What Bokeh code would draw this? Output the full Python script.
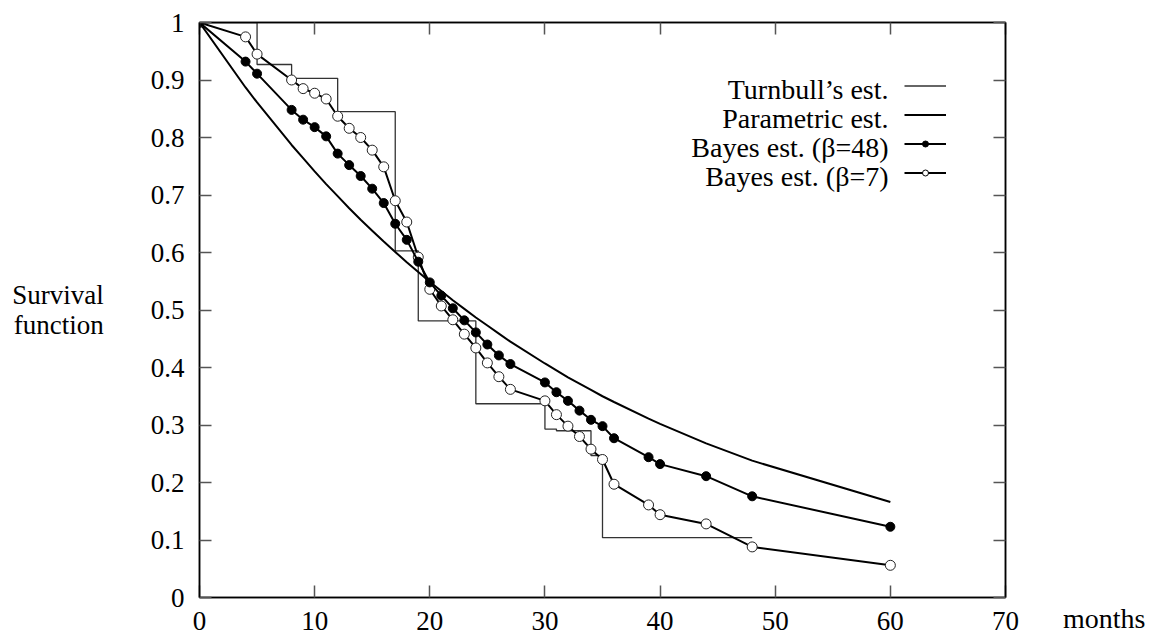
from bokeh.plotting import figure
from bokeh.models import (Range1d, LinearAxis, FixedTicker, Label, Legend, LegendItem)
from bokeh.embed import file_html
from bokeh.resources import INLINE

# ---- data ----
months = [0, 4, 5, 8, 9, 10, 11, 12, 13, 14, 15, 16, 17, 18, 19, 20, 21, 22, 23, 24,
          25, 26, 27, 30, 31, 32, 33, 34, 35, 36, 39, 40, 44, 48, 60]
bayes48 = [1.0, 0.932, 0.911, 0.848, 0.831, 0.818, 0.802, 0.772, 0.752, 0.733, 0.711,
           0.686, 0.650, 0.622, 0.584, 0.548, 0.525, 0.503, 0.482, 0.461, 0.440, 0.421,
           0.406, 0.374, 0.357, 0.342, 0.325, 0.309, 0.298, 0.277, 0.244, 0.232, 0.211,
           0.176, 0.123]
bayes7 = [1.0, 0.975, 0.945, 0.900, 0.885, 0.877, 0.867, 0.837, 0.816, 0.800, 0.778,
          0.749, 0.690, 0.653, 0.592, 0.536, 0.507, 0.483, 0.458, 0.434, 0.408, 0.384,
          0.362, 0.342, 0.318, 0.298, 0.280, 0.258, 0.240, 0.197, 0.161, 0.144, 0.128,
          0.088, 0.056]
parametric = [1.0, 0.887, 0.861, 0.787, 0.764, 0.741, 0.719, 0.698, 0.677, 0.657, 0.638,
              0.619, 0.601, 0.583, 0.566, 0.549, 0.533, 0.517, 0.502, 0.487, 0.473, 0.459,
              0.445, 0.407, 0.395, 0.383, 0.372, 0.361, 0.350, 0.340, 0.311, 0.302, 0.268,
              0.238, 0.166]
turnbull_x = [0, 5, 8, 12, 17, 19, 24, 30, 31, 34, 35, 48]
turnbull_y = [1.0, 0.927, 0.903, 0.845, 0.603, 0.481, 0.337, 0.293, 0.290, 0.247, 0.104, 0.104]

x_ticks = [0, 10, 20, 30, 40, 50, 60, 70]
x_tick_labels = ["0", "10", "20", "30", "40", "50", "60", "70"]
y_ticks = [0, 0.1, 0.2, 0.3, 0.4, 0.5, 0.6, 0.7, 0.8, 0.9, 1]
y_tick_labels = ["0", "0.1", "0.2", "0.3", "0.4", "0.5", "0.6", "0.7", "0.8", "0.9", "1"]
series_names = ["Turnbull\u2019s est.", "Parametric est.",
                "Bayes est. (\u03b2=48)", "Bayes est. (\u03b2=7)"]
x_title = "months"
y_title = "Survival\nfunction"

FONT = "Liberation Serif"
FS = "27px"
LFS = "28px"

p = figure(width=1149, height=639, output_backend="svg", toolbar_location=None,
           x_range=Range1d(0, 70), y_range=Range1d(0, 1),
           min_border_left=199, min_border_right=144, min_border_top=22,
           min_border_bottom=42, x_axis_location=None, y_axis_location=None)
p.xgrid.visible = False
p.ygrid.visible = False
p.outline_line_color = "black"
p.outline_line_width = 1.5
p.background_fill_color = "white"
p.border_fill_color = "white"


def style_axis(ax, ticks, labels, show):
    ax.ticker = FixedTicker(ticks=ticks)
    if show:
        ax.major_label_overrides = {t: l for t, l in zip(ticks, labels)}
    else:
        ax.major_label_overrides = {t: "" for t in ticks}
        ax.major_label_standoff = 0
    ax.minor_tick_line_color = None
    ax.major_tick_in = 12
    ax.major_tick_out = 0
    ax.major_tick_line_color = "#555555"
    ax.major_tick_line_width = 1.5
    ax.axis_line_color = "black"
    ax.axis_line_width = 1.5
    ax.major_label_text_font = FONT
    ax.major_label_text_color = "black"
    ax.major_label_text_font_size = FS


xb = LinearAxis()
style_axis(xb, x_ticks, x_tick_labels, True)
xb.major_label_standoff = 14
p.add_layout(xb, "below")
xt = LinearAxis()
style_axis(xt, x_ticks, x_tick_labels, False)
p.add_layout(xt, "above")
yl = LinearAxis()
style_axis(yl, y_ticks, y_tick_labels, True)
yl.major_label_standoff = 15
yl.axis_label = y_title
yl.axis_label_orientation = "horizontal"
yl.axis_label_standoff = 44
yl.axis_label_text_font = FONT
yl.axis_label_text_font_style = "normal"
yl.axis_label_text_font_size = FS
yl.axis_label_text_line_height = 1.0
yl.axis_label_text_color = "black"
p.add_layout(yl, "left")
yr = LinearAxis()
style_axis(yr, y_ticks, y_tick_labels, False)
p.add_layout(yr, "right")

# ---- series ----
r_turn = p.step(turnbull_x, turnbull_y, mode="after", line_color="#333333", line_width=1.3)
r_par = p.line(months, parametric, line_color="black", line_width=2)
r_b7_line = p.line(months, bayes7, line_color="black", line_width=2)
r_b7_pts = p.scatter(months, bayes7, marker="circle", size=10, fill_color="white",
                     line_color="#222222", line_width=1)
r_b48_line = p.line(months, bayes48, line_color="black", line_width=2)
r_b48_pts = p.scatter(months, bayes48, marker="circle", size=9, fill_color="black",
                      line_color="black")

# key-only marker styles (hidden in the plot)
k_b48 = p.scatter(months, bayes48, marker="circle", size=6, fill_color="black",
                  line_color="black", visible=False)
k_b7 = p.scatter(months, bayes7, marker="circle", size=6, fill_color="white",
                 line_color="black", line_width=1, visible=False)

# ---- legend (samples on the right, texts right-aligned on the left) ----
legend = Legend(items=[
    LegendItem(label="", renderers=[r_turn]),
    LegendItem(label="", renderers=[r_par]),
    LegendItem(label="", renderers=[r_b48_line, k_b48]),
    LegendItem(label="", renderers=[r_b7_line, k_b7]),
], location=(705, 410), orientation="vertical")
legend.glyph_width = 42
legend.glyph_height = 15
legend.label_width = 0
legend.label_height = 29
legend.label_standoff = 0
legend.label_text_font_size = "10px"
legend.padding = 0
legend.spacing = 0
legend.margin = 0
legend.border_line_color = None
legend.background_fill_alpha = 0
p.add_layout(legend)

# legend texts in data units (inside the frame)
px_per_x = (1005.5 - 199.3) / 70.0
px_per_y = 575.0


def dx(px):
    return (px - 199.3) / px_per_x


def dy(py):
    return (596.7 - py) / px_per_y


for i, name in enumerate(series_names):
    p.add_layout(Label(x=dx(888.5), y=dy(88.3 + 29 * i), text=name,
                       text_align="right", text_baseline="alphabetic",
                       text_font=FONT, text_font_size=LFS, text_color="black"))

# "months" to the right of the x tick labels, in the right side panel
p.add_layout(Label(x=1063 - 1005.5, y=-20.5, x_units="screen", y_units="screen",
                   text=x_title, text_align="left", text_baseline="alphabetic",
                   text_font=FONT, text_font_size=LFS, text_color="black"), "right")

open("out.html", "w").write(file_html(p, INLINE))
